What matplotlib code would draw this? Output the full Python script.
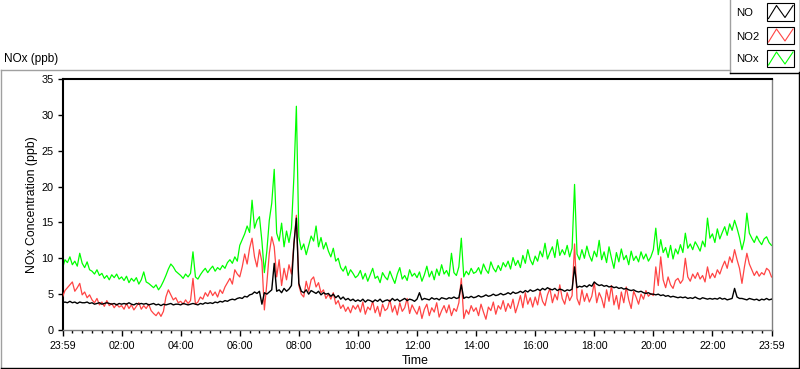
import numpy as np
import matplotlib
matplotlib.use("Agg")
import matplotlib.pyplot as plt
from matplotlib.lines import Line2D
from matplotlib.patches import Rectangle

plt.rcParams['font.family'] = ['Liberation Sans', 'DejaVu Sans']
plt.rcParams['font.size'] = 7.5

# ---------------- data (5-minute samples) ----------------
no = [
    3.8, 3.9, 3.8, 4.0, 3.8, 3.9, 3.7, 3.9, 3.8, 3.8, 3.9, 3.7,
    3.8, 3.6, 3.7, 3.8, 3.6, 3.7, 3.8, 3.7, 3.6, 3.7, 3.5, 3.7,
    3.6, 3.7, 3.6, 3.8, 3.6, 3.5, 3.7, 3.6, 3.7, 3.6, 3.7, 3.5,
    3.6, 3.7, 3.5, 3.6, 3.4, 3.6, 3.5, 3.6, 3.7, 3.5, 3.6, 3.6,
    3.5, 3.7, 3.6, 3.5, 3.6, 3.7, 3.6, 3.5, 3.7, 3.6, 3.8, 3.7,
    3.8, 3.7, 3.9, 3.8, 4.0, 3.9, 4.1, 4.0, 4.2, 4.3, 4.2, 4.4,
    4.5, 4.4, 4.7, 4.6, 4.9, 5.0, 5.3, 5.1, 5.4, 3.6, 5.2, 5.0,
    5.3, 5.6, 9.3, 5.4, 5.6, 5.2, 5.8, 5.4, 5.7, 6.2, 12.0, 15.6,
    6.5, 5.4, 5.2, 5.6, 5.0, 5.5, 5.3, 5.1, 5.4, 4.9, 5.2, 5.0,
    5.1, 4.7, 5.0, 4.5, 4.8, 4.3, 4.6, 4.2, 4.4, 4.1, 4.3, 4.0,
    4.2, 4.0, 4.3, 3.9, 4.2, 4.1, 3.9, 4.2, 4.0, 4.3, 3.9, 4.1,
    4.2, 4.0, 4.4, 4.1, 4.3, 4.0, 4.2, 4.4, 4.1, 4.3, 4.2, 4.0,
    4.3, 5.2, 4.2, 4.4, 4.3, 4.2, 4.5, 4.3, 4.4, 4.2, 4.5, 4.4,
    4.3, 4.5, 4.4, 4.6, 4.4, 4.5, 6.3, 4.4, 4.6, 4.5, 4.7, 4.5,
    4.6, 4.8, 4.6, 4.7, 4.9, 4.7, 4.8, 5.0, 4.8, 4.9, 5.1, 4.9,
    5.0, 5.2, 5.0, 5.3, 5.1, 5.2, 5.4, 5.2, 5.5, 5.3, 5.6, 5.4,
    5.5, 5.7, 5.5, 5.8, 5.6, 5.9, 5.7, 5.6, 5.8, 5.5, 5.7, 5.6,
    5.4, 5.6, 5.5, 5.7, 8.8, 5.9, 6.1, 6.0, 6.2, 6.0, 6.3, 6.1,
    6.7, 6.4, 6.2, 6.3, 6.1, 6.2, 6.0, 6.1, 5.9, 6.0, 5.8, 5.9,
    5.7, 5.8, 5.6, 5.5, 5.6, 5.4, 5.3, 5.4, 5.2, 5.1, 5.2, 5.0,
    5.0, 4.9, 5.0, 4.8, 4.9, 4.7, 4.8, 4.6, 4.7, 4.6, 4.5, 4.6,
    4.5, 4.6, 4.4, 4.5, 4.4, 4.6, 4.4, 4.3, 4.5, 4.4, 4.3, 4.4,
    4.3, 4.4, 4.3, 4.5, 4.3, 4.4, 4.2, 4.3, 4.4, 5.8, 4.6, 4.4,
    4.4, 4.3, 4.2, 4.4, 4.3, 4.2, 4.3, 4.1, 4.3, 4.2, 4.4, 4.2,
    4.3,
]

no2 = [
    4.6, 5.5, 5.9, 6.3, 6.7, 5.4, 5.9, 6.5, 4.9, 5.3, 4.5, 4.9,
    4.2, 3.8, 4.4, 3.5, 3.9, 3.3, 4.1, 3.4, 3.7, 3.1, 3.6, 3.2,
    3.4, 2.9, 3.7, 3.0, 3.5, 2.8, 3.3, 3.8, 2.9, 3.4, 3.0, 3.6,
    2.7, 2.3, 2.0, 2.5, 1.9, 2.6, 4.6, 5.6, 4.9, 4.2, 4.5, 3.8,
    4.0, 3.6, 4.2, 3.7, 4.1, 7.2, 3.6, 3.9, 4.6, 4.3, 5.2, 4.7,
    5.5, 4.8, 5.3, 4.6, 5.6, 5.1, 6.0, 6.6, 7.2, 6.4, 8.4, 7.8,
    7.4, 8.8, 10.6, 9.2, 11.4, 12.8, 10.2, 8.8, 11.2, 9.5, 2.8, 6.5,
    10.7, 13.0, 11.6, 7.4, 9.8, 6.2, 8.6, 7.0, 9.1, 7.8, 12.0, 16.0,
    6.2, 5.0, 4.6, 6.8, 5.4, 7.0, 7.4, 6.0, 6.6, 5.2, 5.6, 4.4,
    5.0, 4.3, 5.2, 3.6, 4.1, 3.0, 3.5, 2.6, 3.2, 2.4, 3.4, 2.9,
    3.5, 2.5, 3.9, 2.2, 3.2, 2.8, 4.0, 2.4, 3.3, 1.9, 3.6, 2.7,
    3.0, 4.2, 2.5, 3.4, 2.1, 3.8, 2.6, 3.1, 4.4, 2.3, 3.5, 2.8,
    2.2, 3.3, 1.6, 2.9, 3.6, 2.0, 3.1, 2.5, 3.8, 1.8, 2.7, 3.4,
    2.4, 3.5, 2.0, 3.0, 2.6, 3.8, 7.2, 1.6, 2.8, 2.2, 3.4, 2.6,
    3.1, 2.0, 3.6, 2.5, 1.5, 3.2, 2.7, 3.9, 2.2, 3.4, 2.9, 4.1,
    2.6, 3.7, 3.0, 4.3, 2.4, 3.5, 4.8, 3.1, 5.2, 3.6, 4.5, 3.2,
    4.6, 3.5, 5.4, 4.0, 3.4, 4.9, 5.8, 3.8, 5.0, 4.2, 6.3, 4.4,
    3.6, 5.2, 4.1, 4.8, 12.0, 4.4, 3.5, 5.6, 4.0, 5.1, 3.9, 4.7,
    6.6, 3.8, 5.2, 4.4, 3.1, 5.6, 4.0, 6.2, 3.5, 4.8, 2.9, 5.3,
    3.8, 6.0, 4.2, 3.0, 5.4, 4.6, 3.6, 5.0, 4.3, 5.5, 4.7, 5.1,
    4.8, 8.8, 6.2, 10.2, 7.0, 5.9, 7.4, 6.3, 5.8, 6.9, 7.2, 6.5,
    7.0, 10.0, 7.4, 6.8, 7.8, 7.2, 8.0, 7.1, 7.6, 6.7, 8.8, 7.2,
    7.9, 7.3, 8.4, 7.8, 8.8, 9.6, 8.6, 10.2, 9.4, 11.2, 9.8, 8.6,
    6.5, 8.8, 10.7, 9.2, 8.4, 7.6, 8.2, 7.5, 8.0, 7.7, 8.6, 8.3,
    7.4,
]

nox = [
    8.6, 9.8, 9.4, 10.2, 9.1, 9.6, 8.9, 10.7, 9.3, 8.7, 9.5, 8.4,
    8.2, 7.8, 8.4, 7.6, 7.9, 7.2, 7.6, 7.0, 7.7, 7.3, 7.8, 7.1,
    7.4, 6.9, 7.5, 6.6, 7.2, 6.8, 7.3, 6.4, 7.0, 8.1, 6.7, 6.5,
    6.2, 5.9, 6.3, 5.6, 6.1, 6.8, 7.6, 8.5, 9.2, 8.8, 8.2, 7.9,
    7.6, 7.2, 7.8, 7.4, 7.9, 10.9, 7.4, 7.1, 7.7, 8.2, 8.6, 8.0,
    8.5, 8.9, 8.2, 8.7, 8.4, 9.0, 8.6, 9.4, 9.8, 9.3, 10.2, 9.6,
    11.8, 12.6, 13.4, 14.5, 13.6, 18.1, 14.2, 15.3, 15.8, 12.4, 8.0, 11.0,
    15.3, 17.7, 22.4, 13.5, 12.4, 14.9, 11.6, 13.8, 12.2, 14.2, 21.4, 31.2,
    13.0, 11.2, 12.0, 10.5, 11.8, 13.1, 12.4, 14.5, 11.6, 12.9, 11.3, 12.2,
    11.0, 10.2, 11.4, 9.6, 10.0, 8.7, 8.2, 8.9, 7.6, 8.4, 7.9, 7.3,
    7.6, 8.3, 7.1, 7.9, 6.8, 7.7, 8.6, 7.2, 7.5, 6.6, 8.0, 7.4,
    7.0, 8.2, 7.3, 6.5, 7.8, 8.7, 7.1, 7.6, 6.9, 8.4, 7.5, 7.9,
    7.3, 8.1, 6.8, 7.7, 8.9, 7.4, 8.2, 7.0, 8.5, 7.6, 9.1, 7.8,
    8.3, 7.5, 10.7, 8.0, 7.6, 8.8, 12.8, 7.4, 8.2, 7.7, 8.6, 7.9,
    8.1, 8.7, 7.8, 9.2, 8.4, 7.9, 9.5, 8.6, 8.1, 9.0, 8.3, 9.4,
    8.8, 9.6, 8.5, 10.1, 9.0, 9.7, 8.7, 10.4, 9.3, 11.2, 9.8, 9.1,
    10.3, 9.6, 11.0, 10.2, 12.1, 9.9, 10.8, 11.6, 10.1, 12.6, 10.4, 11.2,
    10.5, 11.8, 10.2, 11.4, 20.3, 10.6, 9.8, 11.2, 10.0, 11.7, 10.4, 9.6,
    11.0, 10.2, 12.5, 9.8, 10.9, 9.4, 11.6, 10.0, 8.6, 10.8, 9.5, 11.3,
    9.8, 10.4, 9.1, 11.0, 9.7, 10.3, 9.5, 10.9, 9.9, 10.6, 9.6, 10.2,
    11.2, 14.2, 10.5, 12.6, 10.8, 11.5, 10.1, 11.8, 9.9, 11.3, 10.6, 11.9,
    10.8, 13.5, 11.4, 12.0, 11.2, 12.3, 11.7, 11.0, 12.4, 11.6, 15.6, 12.8,
    13.4, 12.2, 14.1, 12.7, 13.6, 14.4, 13.2, 14.8, 13.9, 15.3, 14.2, 12.9,
    11.2, 12.6, 16.3, 13.5, 12.8, 12.2, 13.1, 12.4, 11.9, 12.7, 13.0, 12.2,
    11.8,
]

sample_step_min = 5
tick_minutes = [0, 120, 240, 360, 480, 600, 720, 840, 960, 1080, 1200, 1320, 1440]
tick_labels = ["23:59", "02:00", "04:00", "06:00", "08:00", "10:00", "12:00",
               "14:00", "16:00", "18:00", "20:00", "22:00", "23:59"]
y_ticks = [0, 5, 10, 15, 20, 25, 30, 35]
series_names = ["NO", "NO2", "NOx"]
series_colors = ["#000000", "#FF4444", "#00FF00"]

# ---------------- figure ----------------
W, H = 800, 369
def fx(px):
    return px / W
def fy(py):
    return 1 - py / H

fig = plt.figure(figsize=(8, 3.69), dpi=100)
fig.patch.set_facecolor("white")

ax = fig.add_axes([fx(62.5), fy(330), 709 / W, 251 / H])
t = np.arange(len(no)) * sample_step_min

# draw order: NOx under NO2 under NO
ax.plot(t, nox, color=series_colors[2], lw=0.9, zorder=2)
ax.plot(t, no2, color=series_colors[1], lw=0.9, zorder=3)
ax.plot(t, no, color=series_colors[0], lw=1.0, zorder=4)

ax.set_xlim(0, 1440)
ax.set_ylim(0, 35)
ax.set_xticks(tick_minutes)
ax.set_xticklabels(tick_labels)
ax.set_xticks(np.arange(0, 1441, 20), minor=True)
ax.set_yticks(y_ticks)
ax.set_yticklabels([str(v) for v in y_ticks])

ax.tick_params(axis="x", which="major", direction="out", length=4.5, width=1.0,
               pad=3.5, colors="black", labelsize=7.7)
ax.tick_params(axis="x", which="minor", direction="out", length=2.5, width=1.0,
               colors="black")
ax.tick_params(axis="y", which="major", direction="out", length=3.8, width=1.0,
               pad=2.5, colors="black", labelsize=7.9)

for side in ("left", "top"):
    ax.spines[side].set_color("black")
    ax.spines[side].set_linewidth(1.5)
for side in ("right", "bottom"):
    ax.spines[side].set_color("#808080")
    ax.spines[side].set_linewidth(1.0)

# axis labels and title placed as in the reference
fig.text(fx(32.5), fy(204.5), "NOx Concentration (ppb)", rotation=90,
         ha="center", va="center", fontsize=8.8)
fig.text(fx(402), fy(361), "Time", ha="left", va="center", fontsize=8.8)
fig.text(fx(4), fy(59), "NOx (ppb)", ha="left", va="center", fontsize=8.5)

# outer panel frame (sunken look)
def fline(x0, y0, x1, y1, color, lw=1.0):
    fig.add_artist(Line2D([fx(x0), fx(x1)], [fy(y0), fy(y1)], color=color,
                          lw=lw, transform=fig.transFigure))

fline(1, 69.5, 730, 69.5, "#a0a0a0")
fline(1, 69.5, 1, 367.5, "#a0a0a0")
fline(1, 367.5, 799, 367.5, "black")
fline(799, 72, 799, 367.5, "black")

# legend box
fline(730, 0, 730, 72.5, "#a0a0a0")
fline(730, 72.5, 799.5, 72.5, "black")
fline(799.5, 0, 799.5, 72.5, "black")

legend_rows = [(3.5, 20.5, 12.5), (27, 44, 36.5), (50, 67, 59.5)]
for (top, bot, ymid), name, col in zip(legend_rows, series_names, series_colors):
    fig.text(fx(736), fy(ymid), name, ha="left", va="center", fontsize=8.2)
    fig.add_artist(Rectangle((fx(767), fy(bot)), 27 / W, (bot - top) / H,
                             fill=True, facecolor="white", edgecolor="black",
                             lw=0.8, transform=fig.transFigure))
    xs = [768.5, 776.5, 785, 793]
    ys = [bot - 2, top + 2, bot - 3, top + 2]
    fig.add_artist(Line2D([fx(v) for v in xs], [fy(v) for v in ys], color=col,
                          lw=0.8, transform=fig.transFigure))

fig.savefig("out.png", dpi=100)
